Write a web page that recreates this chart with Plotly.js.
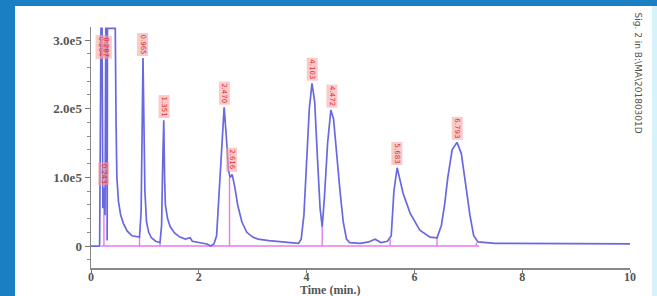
<!DOCTYPE html>
<html>
<head>
<meta charset="utf-8">
<script src="https://cdn.plot.ly/plotly-3.0.1.min.js"></script>
<style>
  html, body { margin:0; padding:0; width:657px; height:296px; overflow:hidden; background:#1b7fc4; }
  #panel { position:absolute; left:15px; top:6px; width:642px; height:290px; background:#ffffff; }
  #edge { position:absolute; left:652px; top:6px; width:5px; height:290px; background:#d6f3fb; }
  #chart { position:absolute; left:0; top:0; width:642px; height:290px; }
</style>
</head>
<body>
<div id="panel"><div id="chart"></div></div>
<div id="edge"></div>
<script>
// Signal trace (time in min, abundance)
const sigTime = [0.00,0.16,0.185,0.205,0.22,0.24,0.26,0.275,0.29,0.30,0.305,0.45,0.465,0.48,0.51,0.55,0.60,0.67,0.76,0.85,0.90,
  0.93,0.95,0.965,0.98,1.00,1.03,1.07,1.12,1.20,1.28,
  1.31,1.33,1.35,1.365,1.38,1.42,1.47,1.55,1.65,1.75,1.84,1.88,2.00,2.15,2.22,2.28,
  2.33,2.38,2.43,2.47,2.51,2.55,2.58,2.62,2.67,2.72,2.80,2.89,3.00,3.10,3.30,3.50,3.70,3.85,
  3.90,3.95,4.00,4.05,4.10,4.15,4.20,4.25,4.29,4.33,4.39,4.45,4.50,4.56,4.62,4.68,4.74,4.80,
  5.00,5.15,5.27,5.38,5.50,5.57,5.62,5.68,5.72,5.79,5.92,6.10,6.29,6.42,
  6.50,6.56,6.62,6.70,6.79,6.87,6.95,7.03,7.10,7.18,7.50,8.00,9.00,10.00];
const sigValue = [0,0,3.17e5,3.17e5,0.55e5,0.85e5,0.45e5,3.17e5,3.17e5,0.08e5,3.17e5,3.17e5,1.8e5,1.0e5,0.65e5,0.45e5,0.33e5,0.22e5,0.15e5,0.13e5,0.13e5,
  0.5e5,2.0e5,2.74e5,1.9e5,0.8e5,0.35e5,0.2e5,0.12e5,0.07e5,0.05e5,
  0.3e5,1.2e5,1.83e5,1.0e5,0.6e5,0.4e5,0.28e5,0.19e5,0.13e5,0.1e5,0.12e5,0.07e5,0.05e5,0.03e5,0.0,0.03e5,
  0.15e5,0.8e5,1.6e5,2.02e5,1.6e5,1.1e5,1.0e5,1.04e5,0.85e5,0.6e5,0.35e5,0.2e5,0.13e5,0.1e5,0.08e5,0.06e5,0.05e5,0.04e5,
  0.1e5,0.45e5,1.2e5,2.0e5,2.37e5,2.1e5,1.3e5,0.55e5,0.28e5,0.7e5,1.5e5,1.98e5,1.85e5,1.3e5,0.8e5,0.35e5,0.1e5,0.05e5,
  0.04e5,0.06e5,0.1e5,0.05e5,0.07e5,0.15e5,0.8e5,1.14e5,1.0e5,0.77e5,0.48e5,0.23e5,0.13e5,0.12e5,
  0.3e5,0.6e5,1.0e5,1.4e5,1.51e5,1.35e5,0.9e5,0.45e5,0.15e5,0.06e5,0.04e5,0.04e5,0.03e5,0.03e5];

// Integration baseline and peak drop lines
const baseTime = [0.19,7.20,null,0.24,0.24,null,0.90,0.90,null,1.28,1.28,null,2.57,2.57,null,4.29,4.29,null,5.55,5.55,null,6.42,6.42,null,7.15,7.15];
const baseValue = [0,0,null,0,0.85e5,null,0,0.13e5,null,0,0.05e5,null,0,1.0e5,null,0,0.28e5,null,0,0.1e5,null,0,0.12e5,null,0,0.05e5];

// Peak labels
const peakTimes  = [0.19, 0.24, 0.28, 0.965, 1.35, 2.47, 2.60, 4.10, 4.47, 5.68, 6.79];
const peakHeights= [2.72e5, 0.88e5, 2.72e5, 2.76e5, 1.86e5, 2.05e5, 1.08e5, 2.40e5, 2.01e5, 1.17e5, 1.54e5];
const peakLabels = ["0.204","0.243","0.287","0.965","1.351","2.470","2.616","4.103","4.472","5.683","6.793"];

// Axis ticks
const yTickVals = [0, 1.0e5, 2.0e5, 3.0e5];
const yTickText = ["0", "1.0e5", "2.0e5", "3.0e5"];
const xTickVals = [0, 2, 4, 6, 8, 10];

const tickFont = {family:'Liberation Serif, DejaVu Serif, serif', size:13, color:'#555555', weight:'bold'};
const xTickFont = {family:'Liberation Serif, DejaVu Serif, serif', size:12, color:'#555555', weight:'bold'};

const annotations = peakTimes.map((t, i) => ({
  x: t, y: peakHeights[i], xref:'x', yref:'y',
  text: peakLabels[i], showarrow:false, textangle:90,
  xanchor:'center', yanchor:'bottom',
  font:{family:'DejaVu Sans, sans-serif', size:7, color:'#e02a2a'},
  bgcolor:'rgba(247,160,160,0.55)', borderpad:1
}));
annotations.push({
  x:(330-91)/539, y:(268-289.5)/241, xref:'paper', yref:'paper', text:'Time (min.)',
  showarrow:false, xanchor:'center', yanchor:'middle',
  font:{family:'Liberation Serif, DejaVu Serif, serif', size:12, color:'#555555', weight:'bold'}
});
annotations.push({
  x:(638-91)/539, y:(268-10)/241, xref:'paper', yref:'paper', text:'Sig. 2 in B:\\MA\\20180301D',
  showarrow:false, textangle:90, xanchor:'center', yanchor:'top',
  font:{family:'DejaVu Sans, sans-serif', size:9, color:'#555555'}
});

const traces = [
  {x: baseTime, y: baseValue, type:'scatter', mode:'lines', connectgaps:false,
   line:{color:'#e77ae7', width:1.4}, hoverinfo:'skip'},
  {x: sigTime, y: sigValue, type:'scatter', mode:'lines',
   line:{color:'#6868e0', width:1.7}, hoverinfo:'skip'}
];

const layout = {
  width:642, height:290,
  margin:{l:76, r:27, t:21, b:28},
  paper_bgcolor:'#ffffff', plot_bgcolor:'#ffffff',
  showlegend:false,
  xaxis:{range:[0,10], tickvals:xTickVals, ticks:'outside', ticklen:3, tickcolor:'#777',
         ticklabelstandoff:-6,
         showline:true, linecolor:'#888', linewidth:1.5, showgrid:false, zeroline:false,
         tickfont:xTickFont},
  yaxis:{range:[-0.32e5, 3.19e5], tickvals:yTickVals, ticktext:yTickText, ticks:'outside', ticklen:5,
         tickcolor:'#777', showline:true, linecolor:'#888', linewidth:1.5, showgrid:false, zeroline:false,
         tickfont:tickFont,
         minor:{dtick:0.2e5, tick0:0, ticks:'outside', ticklen:3, tickcolor:'#888', showgrid:false}},
  annotations: annotations
};

Plotly.newPlot('chart', traces, layout, {staticPlot:true, displayModeBar:false});
</script>
</body>
</html>
